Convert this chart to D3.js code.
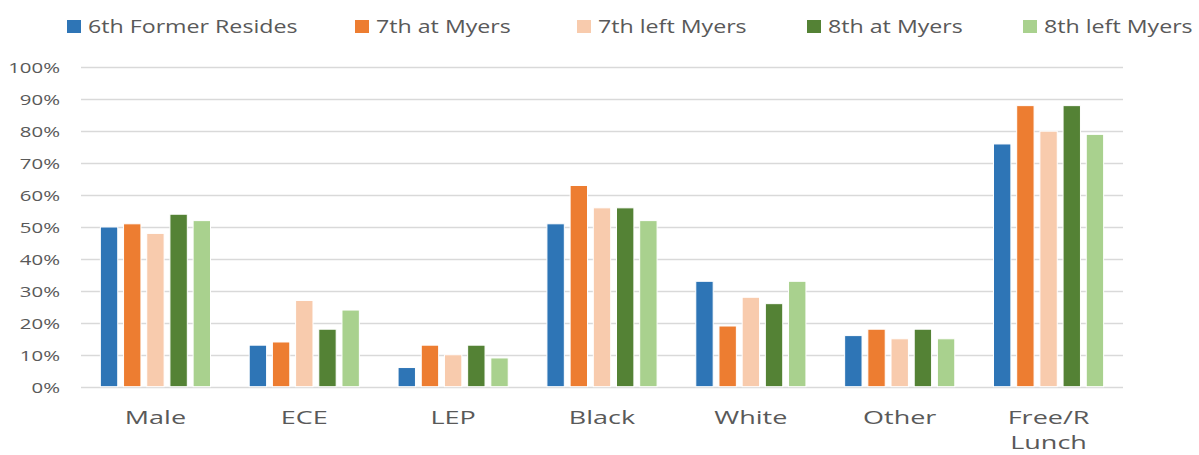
<!DOCTYPE html>
<html>
<head>
<meta charset="utf-8">
<script src="https://cdn.jsdelivr.net/npm/d3@7"></script>
<style>
  html, body { margin: 0; padding: 0; background: #fff; }
  text { font-family: "Open Sans", sans-serif; fill: #595959; }
</style>
</head>
<body>
<div id="chart"></div>
<script>
// Chart data
const categories = ['Male', 'ECE', 'LEP', 'Black', 'White', 'Other', 'Free/R Lunch'];
const seriesNames = ['6th Former Resides', '7th at Myers', '7th left Myers', '8th at Myers', '8th left Myers'];
const sixthFormer = [50, 13, 6, 51, 33, 16, 76];
const seventhAt = [51, 14, 13, 63, 19, 18, 88];
const seventhLeft = [48, 27, 10, 56, 28, 15, 80];
const eighthAt = [54, 18, 13, 56, 26, 18, 88];
const eighthLeft = [52, 24, 9, 52, 33, 15, 79];
const yTicks = [0, 10, 20, 30, 40, 50, 60, 70, 80, 90, 100];

const seriesValues = [sixthFormer, seventhAt, seventhLeft, eighthAt, eighthLeft];
const colors = ['#2E75B6', '#ED7D31', '#F8CBAD', '#548235', '#A9D18E'];

const width = 1199, height = 455;

const svg = d3.select('#chart').append('svg')
  .attr('width', width)
  .attr('height', height);

const x0 = d3.scaleBand()
  .domain(categories)
  .range([81, 1123])
  .paddingInner(0.26)
  .paddingOuter(0.13);

const x1 = d3.scaleBand()
  .domain(seriesNames)
  .range([0, x0.bandwidth()])
  .paddingInner(0.25);

const y = d3.scaleLinear()
  .domain([0, 100])
  .range([386.7, 67.3]);

// text stretched sideways, like the original picture
function stretchedText(g, x, baseline, str, size, sx, anchor) {
  return g.append('text')
    .attr('transform', `translate(${x},${baseline}) scale(${sx},1)`)
    .attr('text-anchor', anchor)
    .attr('font-size', size + 'px')
    .text(str);
}

// gridlines
svg.append('g')
  .selectAll('line')
  .data(yTicks)
  .enter()
  .append('line')
  .attr('x1', 81)
  .attr('x2', 1123)
  .attr('y1', d => Math.round(y(d)) + 0.5)
  .attr('y2', d => Math.round(y(d)) + 0.5)
  .attr('stroke', '#D9D9D9')
  .attr('stroke-width', 1.3);

// y tick labels
const yLabels = svg.append('g');
yTicks.forEach(t => stretchedText(yLabels, 60, y(t) + 6, t + '%', 15, 1.36, 'end'));

// bars
const groups = svg.append('g')
  .selectAll('g')
  .data(categories)
  .enter()
  .append('g')
  .attr('transform', d => `translate(${x0(d)},0)`);

groups.selectAll('rect')
  .data((d, i) => seriesNames.map((s, j) => ({ series: s, value: seriesValues[j][i], color: colors[j] })))
  .enter()
  .append('rect')
  .attr('x', d => x1(d.series))
  .attr('y', d => y(d.value))
  .attr('width', x1.bandwidth())
  .attr('height', d => y(0) - y(d.value))
  .attr('fill', d => d.color)
  .attr('stroke', '#fff')
  .attr('stroke-width', 1);

// category labels
const catLabels = svg.append('g');
categories.forEach(c => {
  const cx = x0(c) + x0.bandwidth() / 2;
  if (c === 'Free/R Lunch') {
    stretchedText(catLabels, cx, 424, 'Free/R', 19, 1.42, 'middle');
    stretchedText(catLabels, cx, 449, 'Lunch', 19, 1.42, 'middle');
  } else {
    stretchedText(catLabels, cx, 424, c, 19, 1.42, 'middle');
  }
});

// legend
const legend = svg.append('g');
const itemX = [67, 355, 577, 807, 1023];
seriesNames.forEach((s, i) => {
  legend.append('rect')
    .attr('x', itemX[i])
    .attr('y', 20)
    .attr('width', 14)
    .attr('height', 13)
    .attr('fill', colors[i]);
  stretchedText(legend, itemX[i] + 21, 33, s, 19, 1.22, 'start');
});
</script>
</body>
</html>
